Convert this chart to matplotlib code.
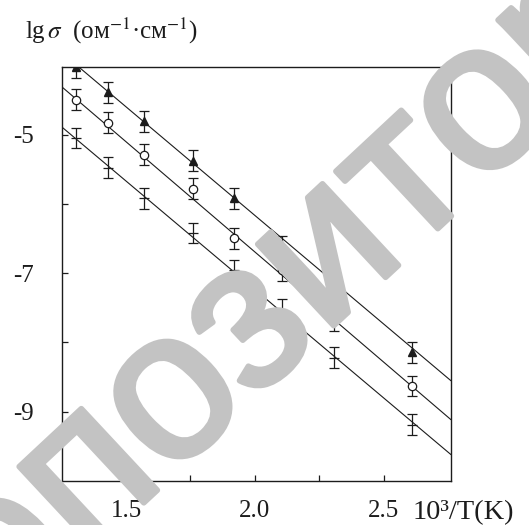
import numpy as np
from matplotlib import pyplot as plt
from matplotlib import patheffects

# reciprocal temperature, 10^3/T
inv_temp = [1.305, 1.430, 1.571, 1.759, 1.919, 2.107, 2.306, 2.610]

# lg(sigma) for the three samples
lg_sigma_triangle = [-4.03, -4.39, -4.81, -5.38, -5.92, -6.62, -7.08, -8.14]
lg_sigma_circle = [-4.50, -4.83, -5.29, -5.78, -6.50, -6.96, -7.68, -8.63]
lg_sigma_plus = [-5.05, -5.48, -5.92, -6.42, -6.96, -7.53, -8.22, -9.19]
error_half = 0.15

# fitted straight lines (intercept, slope)
fit_triangle = (0.10, -3.134)
fit_circle = (-0.335, -3.18)
fit_plus = (-0.977, -3.13)

x_ticks = [1.5, 1.75, 2.0, 2.25, 2.5]
x_tick_labels = ['1.5', '', '2.0', '', '2.5']
y_ticks = [-5, -6, -7, -8, -9]
y_tick_labels = ['-5', '', '-7', '', '-9']

plt.rcParams['font.family'] = ['Liberation Serif', 'DejaVu Serif']
plt.rcParams['mathtext.fontset'] = 'stix'

ink = '#1c1c1c'
mark_gray = '#c3c3c3'

fig = plt.figure(figsize=(5.29, 5.25), dpi=100)
ax = fig.add_axes([0.1166, 0.0838, 0.7354, 0.788])

x_line = np.array([1.25, 2.76])
for fit in [fit_triangle, fit_circle, fit_plus]:
    ax.plot(x_line, fit[0] + fit[1] * x_line, color=ink, lw=0.8, zorder=2)

# error bars with markers
ax.errorbar(inv_temp, lg_sigma_triangle, yerr=error_half, fmt='^', color=ink,
            ms=6, capsize=3.6, elinewidth=0.9, capthick=0.9, zorder=3)
ax.errorbar(inv_temp, lg_sigma_circle, yerr=error_half, fmt='o', color=ink,
            mfc='white', mec=ink, mew=0.9, ms=6, capsize=3.6, elinewidth=0.9,
            capthick=0.9, zorder=3)
ax.errorbar(inv_temp, lg_sigma_plus, yerr=error_half, fmt='_', color=ink,
            ms=7, mew=0.9, capsize=3.6, elinewidth=0.9, capthick=0.9, zorder=3)

ax.set_xlim(1.25, 2.76)
ax.set_ylim(-10, -4.03)
ax.set_xticks(x_ticks)
ax.set_xticklabels(x_tick_labels)
ax.set_yticks(y_ticks)
ax.set_yticklabels(y_tick_labels)
ax.tick_params(direction='in', length=4.5, width=0.9, color=ink,
               labelsize=18, labelcolor=ink)
ax.tick_params(axis='x', pad=14)
ax.tick_params(axis='y', pad=20)
for spine in ax.spines.values():
    spine.set_color(ink)
    spine.set_linewidth(1.0)

# axis captions
fig.text(25 / 529, 1 - 39 / 525, r'lg$\,\sigma$  (ом$^{-1}$·см$^{-1}$)',
         fontsize=18, color=ink, va='baseline', ha='left')
fig.text(413 / 529, 1 - 519 / 525, '10³/T(K)', fontsize=20.5, color=ink,
         va='baseline', ha='left')

# repository watermark over the plot
fig.text(0.622, 0.519, 'репозиторий', fontsize=152, color=mark_gray,
         family='Liberation Sans', rotation=43, ha='center', va='center',
         rotation_mode='anchor', zorder=10,
         path_effects=[patheffects.withStroke(linewidth=4, foreground=mark_gray)])

fig.savefig('out.png', dpi=100)
